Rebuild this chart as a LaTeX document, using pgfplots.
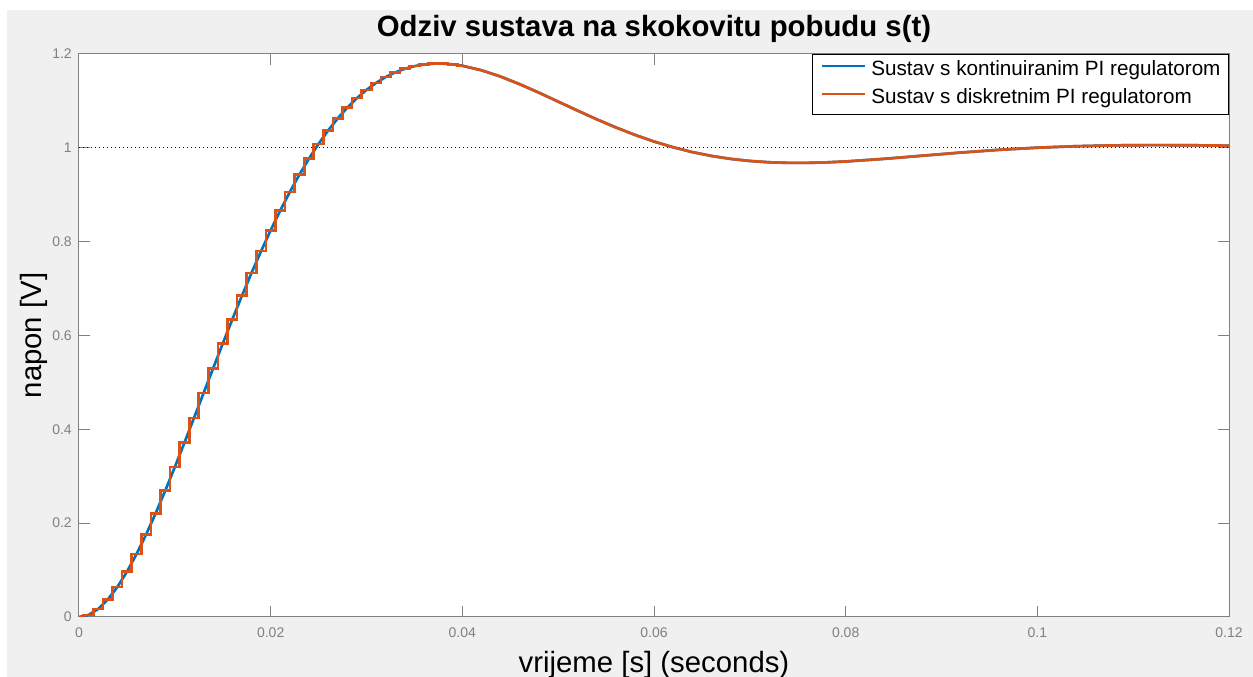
\documentclass[border=0pt]{standalone}
\usepackage{pgfplots}
\pgfplotsset{compat=1.18}
\usepackage{fontspec}
\setmainfont{Liberation Sans}

\definecolor{mblue}{rgb}{0,0.447,0.741}
\definecolor{morange}{rgb}{0.85,0.325,0.098}
\definecolor{figbg}{HTML}{F0F0F0}
\definecolor{axgray}{HTML}{808080}

% continuous response (blue), 1 ms then 2/4 ms spacing
\pgfplotstableread{
t y
0.000 0.0000
0.001 0.0044
0.002 0.0171
0.003 0.0372
0.004 0.0639
0.005 0.0964
0.006 0.1340
0.007 0.1758
0.008 0.2211
0.009 0.2693
0.010 0.3196
0.011 0.3714
0.012 0.4242
0.013 0.4773
0.014 0.5303
0.015 0.5828
0.016 0.6344
0.017 0.6847
0.018 0.7333
0.019 0.7798
0.020 0.8242
0.021 0.8664
0.022 0.9059
0.023 0.9429
0.024 0.9771
0.025 1.0085
0.026 1.0371
0.027 1.0628
0.028 1.0858
0.029 1.1060
0.030 1.1235
0.031 1.1384
0.032 1.1508
0.033 1.1608
0.034 1.1685
0.035 1.1741
0.036 1.1776
0.037 1.1794
0.038 1.1794
0.039 1.1778
0.040 1.1749
}\rise

\pgfplotstableread{
t y
0.040 1.1749
0.042 1.1653
0.044 1.1518
0.046 1.1355
0.048 1.1175
0.050 1.0985
0.052 1.0795
0.054 1.0610
0.056 1.0436
0.058 1.0277
0.060 1.0134
0.062 1.0012
0.064 0.9909
0.066 0.9827
0.068 0.9764
0.070 0.9720
0.072 0.9692
0.074 0.9679
0.076 0.9679
0.078 0.9690
0.080 0.9709
0.084 0.9765
0.088 0.9832
0.092 0.9899
0.096 0.9957
0.100 1.0003
0.104 1.0034
0.108 1.0052
0.112 1.0058
0.116 1.0055
0.120 1.0046
}\tail

\begin{document}
\begin{tikzpicture}
\fill[white] (-59.25pt,-45pt) rectangle (880.5pt,462.75pt);
\fill[figbg] (-54pt,-45pt) rectangle (880.5pt,455.25pt);
\begin{axis}[
    at={(0,0)}, anchor=south west,
    scale only axis,
    width=862.5pt, height=422.25pt,
    xmin=0, xmax=0.12, ymin=0, ymax=1.2,
    axis background/.style={fill=white},
    axis line style={draw=axgray, line width=0.75pt},
    tick align=inside,
    major tick length=8pt,
    tick style={draw=axgray, line width=0.75pt},
    xtick={0,0.02,0.04,0.06,0.08,0.1,0.12},
    xticklabels={0,0.02,0.04,0.06,0.08,0.1,0.12},
    ytick={0,0.2,0.4,0.6,0.8,1,1.2},
    yticklabels={0,0.2,0.4,0.6,0.8,1,1.2},
    xticklabel style={font=\fontsize{10.5}{12}\selectfont, text=axgray, anchor=base, yshift=-15.75pt},
    yticklabel style={font=\fontsize{10.5}{12}\selectfont, text=axgray, anchor=east, inner sep=0pt, xshift=-5.25pt},
    title={Odziv sustava na skokovitu pobudu s(t)},
    title style={at={(0.5,1.016)}, anchor=base, font=\bfseries\fontsize{22}{26}\selectfont},
    xlabel={vrijeme [s] (seconds)},
    xlabel style={at={(axis description cs:0.5,-0.0977)}, anchor=base, font=\fontsize{22}{26}\selectfont},
    ylabel={napon [V]},
    ylabel style={at={(axis description cs:-0.0322,0.5)}, anchor=base, font=\fontsize{22}{26}\selectfont},
    legend cell align=left,
    legend image code/.code={\draw[#1] (0pt,0.33em) -- (32pt,0.33em);},
    legend style={at={(1,1)}, anchor=north east, draw=black, line width=0.75pt,
        fill=white, font=\fontsize{15.5}{18}\selectfont,
        inner xsep=6pt, inner ysep=4.5pt, row sep=6pt,
        nodes={inner sep=0pt, text height=11.5pt, text depth=3.5pt},
        /tikz/every odd column/.append style={column sep=3.75pt}},
]
\addplot[black, line width=0.75pt, dash pattern=on 0.75pt off 2.25pt, forget plot]
    coordinates {(0,1) (0.12,1)};
\addplot[mblue, line width=2pt] table[x=t, y=y] {\rise};
\addlegendentry{Sustav s kontinuiranim PI regulatorom}
\addplot[morange, line width=2pt, const plot mark mid] table[x=t, y=y] {\rise};
\addlegendentry{Sustav s diskretnim PI regulatorom}
\addplot[mblue, line width=2pt, forget plot] table[x=t, y=y] {\tail};
\addplot[morange, line width=2pt, forget plot] table[x=t, y=y] {\tail};
\end{axis}
\pgfresetboundingbox
\path (-59.25pt,-45pt) rectangle (880.5pt,462.75pt);
\end{tikzpicture}
\end{document}
